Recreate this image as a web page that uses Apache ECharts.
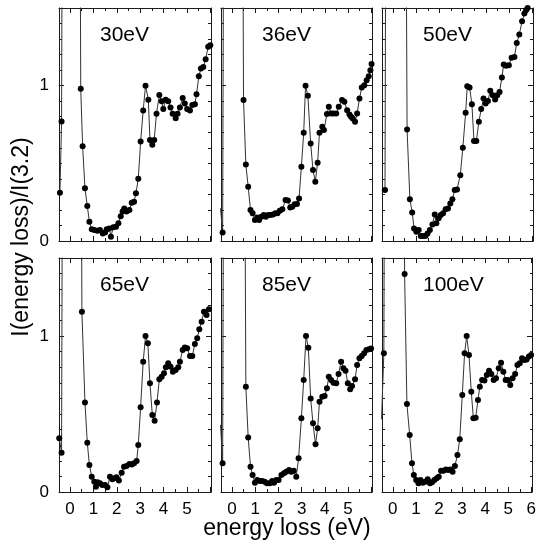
<!DOCTYPE html>
<html><head><meta charset="utf-8">
<script src="https://cdn.jsdelivr.net/npm/echarts@6/dist/echarts.min.js"></script>
<style>html,body{margin:0;padding:0;background:#fff}#c{width:539px;height:546px}</style>
</head><body><div id="c"></div><script>
// ---- data (energy loss in eV, normalised intensity) ----
const panelLabels = ['30eV', '36eV', '50eV', '65eV', '85eV', '100eV'];

const x30 = [-0.43,-0.36,0,0.46,0.54,0.64,0.74,0.83,0.93,1.04,1.17,1.28,1.40,1.50,1.57,1.68,1.75,1.85,1.97,2.07,2.17,2.25,2.32,2.42,2.54,2.64,2.74,2.82,2.92,3.02,3.13,3.23,3.35,3.42,3.52,3.60,3.70,3.82,3.92,3.99,4.09,4.20,4.30,4.39,4.52,4.60,4.70,4.82,4.91,5.01,5.13,5.23,5.34,5.41,5.51,5.60,5.70,5.80,5.91,6.00];
const y30 = [0.31,0.77,20,0.98,0.61,0.34,0.225,0.124,0.075,0.071,0.066,0.071,0.049,0.054,0.075,0.081,0.028,0.088,0.092,0.114,0.16,0.19,0.21,0.19,0.20,0.246,0.253,0.307,0.40,0.64,0.84,1.00,0.91,0.65,0.62,0.65,0.82,0.94,0.90,0.85,0.91,0.90,0.86,0.82,0.79,0.82,0.86,0.92,0.885,0.85,0.84,0.875,0.88,0.945,1.06,1.11,1.12,1.17,1.25,1.26];

const x36 = [-0.49,-0.40,0,0.50,0.60,0.70,0.80,0.89,0.99,1.09,1.17,1.27,1.37,1.46,1.56,1.66,1.77,1.87,1.96,2.06,2.17,2.31,2.41,2.51,2.60,2.70,2.80,2.89,2.99,3.09,3.17,3.27,3.39,3.49,3.59,3.69,3.77,3.89,3.96,4.09,4.17,4.27,4.37,4.49,4.60,4.74,4.84,4.96,5.06,5.13,5.20,5.30,5.39,5.49,5.59,5.70,5.80,5.89,5.96,6.01];
const y36 = [0.21,0.054,20,0.907,0.493,0.35,0.20,0.178,0.135,0.152,0.135,0.156,0.167,0.156,0.167,0.167,0.171,0.178,0.178,0.195,0.204,0.264,0.26,0.216,0.22,0.236,0.238,0.274,0.478,0.697,1.00,0.935,0.628,0.457,0.382,0.504,0.697,0.735,0.714,0.817,0.864,0.821,0.821,0.821,0.864,0.907,0.896,0.842,0.815,0.80,0.789,0.767,0.821,0.917,0.988,1.003,1.035,1.06,1.10,1.14];

const x50 = [-0.49,-0.34,0,0.61,0.73,0.83,0.91,1.01,1.11,1.20,1.30,1.40,1.49,1.59,1.70,1.80,1.87,1.97,2.06,2.16,2.27,2.37,2.47,2.56,2.66,2.76,2.90,3.01,3.13,3.20,3.30,3.40,3.49,3.59,3.70,3.80,3.90,3.99,4.09,4.19,4.30,4.40,4.49,4.59,4.69,4.77,4.87,4.99,5.11,5.23,5.33,5.44,5.56,5.66,5.73,5.80,5.90];
const y50 = [0.328,0.328,20,0.718,0.268,0.184,0.081,0.06,0.071,0.032,0.032,0.032,0.049,0.071,0.107,0.171,0.114,0.146,0.167,0.178,0.204,0.21,0.242,0.268,0.328,0.332,0.424,0.60,0.825,0.997,0.988,0.881,0.643,0.643,0.767,0.849,0.917,0.885,0.902,0.967,0.939,0.911,0.939,0.96,1.052,1.136,1.128,1.132,1.18,1.185,1.275,1.33,1.415,1.464,1.486,1.50,1.56];

const x65 = [-0.46,-0.36,0,0.51,0.64,0.74,0.83,0.93,1.04,1.11,1.18,1.28,1.38,1.50,1.60,1.71,1.81,1.89,1.99,2.09,2.21,2.31,2.42,2.54,2.64,2.74,2.85,2.92,3.02,3.13,3.23,3.33,3.42,3.52,3.62,3.72,3.82,3.92,4.02,4.10,4.20,4.30,4.40,4.52,4.63,4.70,4.82,4.91,5.01,5.13,5.23,5.34,5.44,5.53,5.63,5.73,5.84,5.94];
const y65 = [0.344,0.252,20,1.156,0.573,0.316,0.173,0.098,0.066,0.034,0.062,0.056,0.045,0.045,0.03,0.098,0.081,0.088,0.094,0.073,0.124,0.162,0.167,0.179,0.177,0.184,0.199,0.301,0.543,0.835,1.00,0.953,0.697,0.494,0.457,0.573,0.722,0.739,0.761,0.799,0.825,0.803,0.771,0.782,0.799,0.835,0.91,0.927,0.921,0.872,0.872,0.949,0.985,1.043,1.092,1.156,1.135,1.171];

const x85 = [-0.49,-0.40,0,0.60,0.70,0.80,0.89,0.99,1.09,1.20,1.30,1.41,1.51,1.63,1.73,1.81,1.91,2.01,2.13,2.24,2.34,2.46,2.56,2.66,2.77,2.87,2.99,3.09,3.19,3.29,3.39,3.49,3.60,3.69,3.77,3.89,3.99,4.09,4.17,4.27,4.37,4.49,4.59,4.70,4.80,4.89,4.99,5.09,5.17,5.30,5.39,5.49,5.59,5.69,5.79,5.89,5.99];
const y85 = [0.43,0.184,20,0.675,0.35,0.162,0.109,0.06,0.077,0.07,0.07,0.066,0.056,0.056,0.07,0.06,0.077,0.077,0.109,0.12,0.13,0.141,0.13,0.137,0.098,0.216,0.472,0.718,1.00,0.925,0.60,0.44,0.306,0.408,0.579,0.611,0.615,0.665,0.739,0.718,0.701,0.697,0.756,0.835,0.793,0.778,0.697,0.658,0.679,0.722,0.814,0.857,0.872,0.89,0.91,0.915,0.92];

const x100 = [-0.49,-0.39,0,0.51,0.61,0.73,0.83,0.91,1.01,1.11,1.20,1.30,1.40,1.51,1.61,1.70,1.80,1.90,1.99,2.09,2.19,2.30,2.40,2.49,2.59,2.69,2.80,2.90,3.01,3.11,3.20,3.30,3.40,3.49,3.59,3.69,3.77,3.87,3.97,4.07,4.17,4.27,4.37,4.47,4.59,4.69,4.79,4.89,4.99,5.09,5.19,5.30,5.40,5.50,5.60,5.70,5.80,5.90,5.99];
const y100 = [0.466,0.889,20,1.397,0.564,0.365,0.184,0.109,0.077,0.056,0.077,0.06,0.066,0.081,0.056,0.062,0.077,0.088,0.098,0.137,0.137,0.145,0.141,0.145,0.130,0.167,0.237,0.338,0.622,0.889,1.00,0.878,0.643,0.472,0.476,0.59,0.675,0.718,0.714,0.75,0.778,0.756,0.718,0.729,0.793,0.829,0.771,0.718,0.718,0.686,0.729,0.756,0.814,0.825,0.857,0.846,0.85,0.868,0.878];

// tick values / labels
const xMajorTicks = [0, 1, 2, 3, 4, 5, 6];
const xMinorTicks = [0.5, 1.5, 2.5, 3.5, 4.5, 5.5];
const xLabelsShort = [0, 1, 2, 3, 4, 5];
const xLabelsLong = [0, 1, 2, 3, 4, 5, 6];
const yMajorTicks = [0, 1];
const yMinorTicks = [0.1, 0.2, 0.3, 0.4, 0.5, 0.6, 0.7, 0.8, 0.9, 1.1, 1.2, 1.3, 1.4];
const yLabels = [0, 1];
const xTitle = 'energy loss (eV)';
const yTitle = 'I(energy loss)/I(3.2)';

// ---- build chart ----
const xs = [x30, x36, x50, x65, x85, x100];
const ys = [y30, y36, y50, y65, y85, y100];
const FONT = '"Liberation Sans", Arial, Helvetica, sans-serif';
const lefts = [59, 221, 382], widths = [152, 151, 151];
const tops = [8, 258], heights = [233, 234];
const X_MIN = -0.47, X_MAX = 6.03, Y_MIN = 0, Y_MAX = 1.5;
const axisCol = '#1a1a1a';

const grid = [], xAxis = [], yAxis = [], series = [], graphic = [];

for (let i = 0; i < 6; i++) {
  const r = Math.floor(i / 3), c = i % 3;
  const box = { left: lefts[c], top: tops[r], width: widths[c], height: heights[r] };
  const gA = grid.length; grid.push(Object.assign({}, box));
  const gB = grid.length; grid.push(Object.assign({}, box));

  const xBase = (g, pos, ticks, len, line, labels) => ({
    type: 'value', gridIndex: g, position: pos, min: X_MIN, max: X_MAX,
    axisLine: { show: line, onZero: false, lineStyle: { color: axisCol, width: 1 } },
    axisTick: { show: true, inside: true, length: len, customValues: ticks, lineStyle: { color: axisCol, width: 1 } },
    axisLabel: labels ? { show: true, customValues: labels, margin: 9, fontSize: 17, color: '#000', fontFamily: FONT } : { show: false },
    splitLine: { show: false }
  });
  const yBase = (g, pos, ticks, len, line, labels) => ({
    type: 'value', gridIndex: g, position: pos, min: Y_MIN, max: Y_MAX,
    axisLine: { show: line, onZero: false, lineStyle: { color: axisCol, width: 1 } },
    axisTick: { show: true, inside: true, length: len, customValues: ticks, lineStyle: { color: axisCol, width: 1 } },
    axisLabel: labels ? { show: true, customValues: labels, margin: 10, fontSize: 17, color: '#000', fontFamily: FONT } : { show: false },
    splitLine: { show: false }
  });

  const xMainIdx = xAxis.length;
  xAxis.push(xBase(gA, 'bottom', xMajorTicks, 5, true, r === 1 ? (c === 2 ? xLabelsLong : xLabelsShort) : null));
  xAxis.push(xBase(gA, 'top', xMajorTicks, 5, true, null));
  xAxis.push(xBase(gB, 'bottom', xMinorTicks, 3, false, null));
  xAxis.push(xBase(gB, 'top', xMinorTicks, 3, false, null));

  const yMainIdx = yAxis.length;
  yAxis.push(yBase(gA, 'left', yMajorTicks, 5, true, c === 0 ? yLabels : null));
  yAxis.push(yBase(gA, 'right', yMajorTicks, 5, true, null));
  yAxis.push(yBase(gB, 'left', yMinorTicks, 3, false, null));
  yAxis.push(yBase(gB, 'right', yMinorTicks, 3, false, null));

  series.push({
    type: 'line', xAxisIndex: xMainIdx, yAxisIndex: yMainIdx,
    data: xs[i].map((v, k) => [v, ys[i][k]]),
    clip: true, showAllSymbol: true, symbol: 'circle', symbolSize: 6,
    itemStyle: { color: '#000' },
    lineStyle: { color: '#333', width: 1 },
    emphasis: { disabled: true }, silent: true
  });

  graphic.push({
    type: 'text', x: lefts[c] + 41, y: tops[r] + 27, silent: true,
    style: { text: panelLabels[i], font: '21px ' + FONT, fill: '#000', textAlign: 'left', textVerticalAlign: 'middle' }
  });
}

graphic.push({
  type: 'text', x: 287, y: 529, silent: true,
  style: { text: xTitle, font: '23px ' + FONT, fill: '#000', textAlign: 'center', textVerticalAlign: 'middle' }
});
graphic.push({
  type: 'text', x: 22, y: 237, rotation: Math.PI / 2, silent: true,
  style: { text: yTitle, font: '23px ' + FONT, fill: '#000', textAlign: 'center', textVerticalAlign: 'middle' }
});

const chart = echarts.init(document.getElementById('c'), null, { renderer: 'canvas' });
chart.setOption({
  animation: false,
  backgroundColor: '#fff',
  grid, xAxis, yAxis, series, graphic
});
</script></body></html>
